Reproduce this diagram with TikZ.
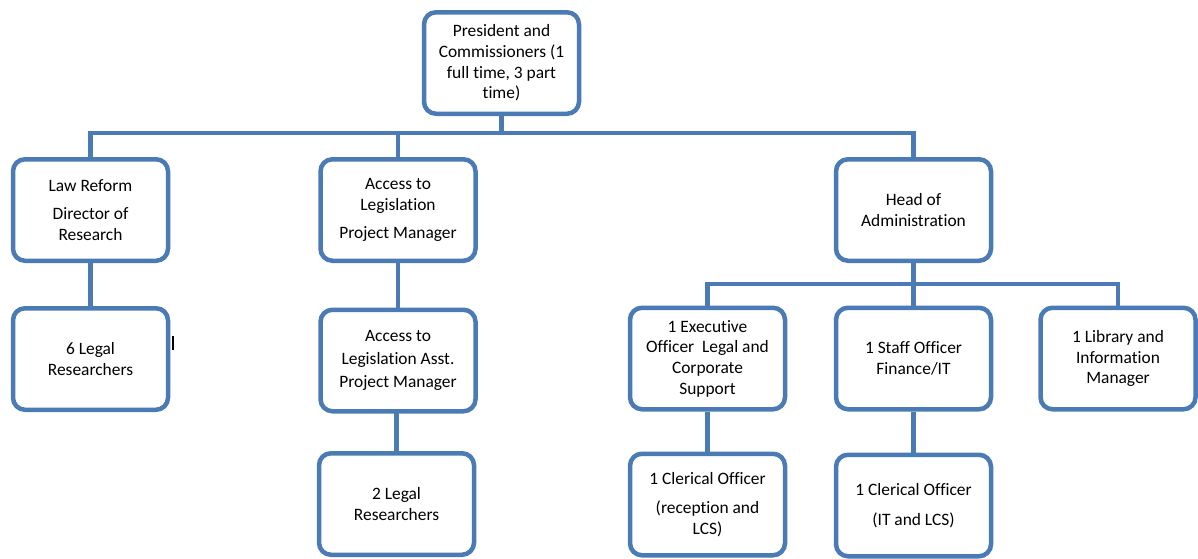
\documentclass[tikz,border=0pt]{standalone}
\usepackage{fontspec}
\setmainfont{Carlito}[Ligatures={NoCommon,NoRequired,NoContextual}]
\definecolor{boxblue}{HTML}{4A7BB5}
\begin{document}
\begin{tikzpicture}[x=1pt,y=-1pt,
  orgbox/.style={draw=boxblue, line width=4.5pt, rounded corners=12pt, fill=white,
    minimum width=155pt, minimum height=101.5pt, align=center, inner sep=2pt,
    font=\fontsize{17.4}{20.7}\selectfont, text=black},
  link/.style={draw=boxblue, line width=4.5pt}]
\useasboundingbox (0,0) rectangle (1198,558);
\coordinate (b1) at (0,133);
\coordinate (b2) at (0,284);
\node[orgbox] (top) at (501.5,63) {President and\\Commissioners (1\\full time, 3 part\\time)};
\node[orgbox] (law) at (90.5,210) {Law Reform\\[7.5pt]Director of\\Research};
\node[orgbox] (acc) at (398,210) {Access to\\Legislation\\[8pt]Project Manager};
\node[orgbox] (head) at (913.5,210) {Head of\\Administration};
\node[orgbox] (six) at (90.5,359) {6 Legal\\Researchers};
\node[orgbox] (asst) at (398,360.5) {Access to\\[2.5pt]Legislation Asst.\\[2.5pt]Project Manager};
\node[orgbox] (two) at (396.5,504) {2 Legal\\Researchers};
\node[orgbox] (exec) at (707.5,358.5) {1 Executive\\Officer\ \ Legal and\\Corporate\\Support};
\node[orgbox] (staff) at (913.5,358.5) {1 Staff Officer\\Finance/IT};
\node[orgbox] (lib) at (1118,358.5) {1 Library and\\Information\\Manager};
\node[orgbox] (cl1) at (707.5,504.5) {1 Clerical Officer\\[8pt](reception and\\LCS)};
\node[orgbox] (cl2) at (913.5,505.5) {1 Clerical Officer\\[9pt](IT and LCS)};
\draw[link] (top.south) -- (top.south |- b1);
\draw[link] (law.north) -- (law.north |- b1) -- (head.north |- b1) -- (head.north);
\draw[link] (acc.north) -- (acc.north |- b1);
\draw[link] (law.south) -- (six.north);
\draw[link] (acc.south) -- (asst.north);
\draw[link] (asst.south) -- (two.south |- asst.south) -- (two.north);
\draw[link] (head.south) -- (staff.north);
\draw[link] (exec.north) -- (exec.north |- b2) -- (lib.north |- b2) -- (lib.north);
\draw[link] (exec.south) -- (cl1.north);
\draw[link] (staff.south) -- (cl2.north);
\coordinate (m1) at (173,336);
\coordinate (m2) at (173,350);
\draw[line width=1.6pt, black] (m1) -- (m2);
\end{tikzpicture}
\end{document}
